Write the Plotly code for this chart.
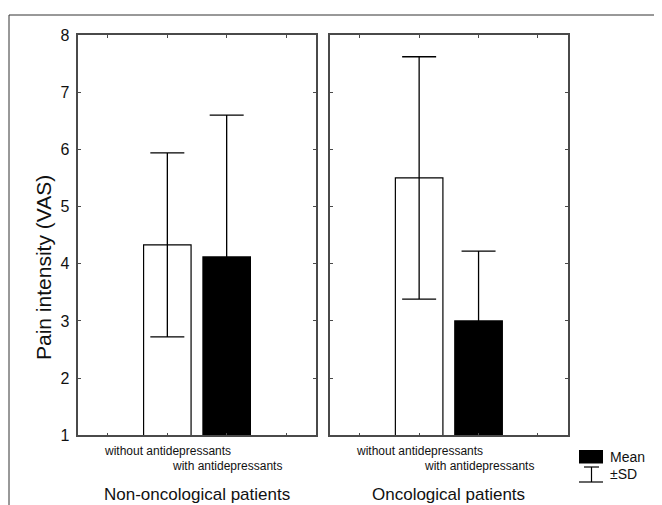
import plotly.graph_objects as go

# ---- data ----
groups = ["Non-oncological patients", "Oncological patients"]
treatments = ["without antidepressants", "with antidepressants"]
mean_without = [4.33, 5.50]
sd_without = [1.61, 2.12]
mean_with = [4.12, 3.00]
sd_with = [2.48, 1.22]
slots = [2, 3]          # category slot of each treatment inside a panel (4 slots per panel)
y_ticks = [1, 2, 3, 4, 5, 6, 7, 8]
y_title = "Pain intensity (VAS)"
legend_labels = ["Mean", "±SD"]

W, H = 662, 505
OFF = 8  # page body margin offset
FONT = "Arial, Liberation Sans, Helvetica, sans-serif"
AX = "#4a4a4a"

def px(x):
    return (x - OFF) / W

def py(y):
    return 1 - (y - OFF) / H

fig = go.Figure()

panel_dom = [[px(78.3), px(315.7)], [px(330.0), px(567.7)]]
ydom = [py(435.3), py(35.0)]

for i in range(2):
    xa = "x" if i == 0 else "x2"
    ya = "y" if i == 0 else "y2"
    fig.add_trace(go.Bar(
        x=[slots[0]], y=[mean_without[i]], xaxis=xa, yaxis=ya,
        width=0.8, marker=dict(color="white", line=dict(color="black", width=1.2)),
        error_y=dict(type="data", array=[sd_without[i]], symmetric=True,
                     color="black", thickness=1.3, width=17),
        showlegend=False, name=treatments[0]))
    fig.add_trace(go.Bar(
        x=[slots[1]], y=[mean_with[i]], xaxis=xa, yaxis=ya,
        width=0.8, marker=dict(color="black", line=dict(color="black", width=1.2)),
        error_y=dict(type="data", array=[sd_with[i]], symmetric=True,
                     color="black", thickness=1.3, width=17),
        showlegend=False, name=treatments[1]))

xcommon = dict(range=[0.5, 4.5], tickvals=[1, 2, 3, 4], showticklabels=False,
               ticks="inside", ticklen=3, tickcolor=AX, tickwidth=1,
               showline=True, linecolor=AX, linewidth=1.6, mirror="ticks",
               showgrid=False, zeroline=False, fixedrange=True, automargin=False)
ycommon = dict(range=[1, 8], tickvals=y_ticks,
               ticks="inside", ticklen=3, tickcolor=AX, tickwidth=1,
               showline=True, linecolor=AX, linewidth=1.6, mirror="ticks",
               showgrid=False, zeroline=False, fixedrange=True, automargin=False)

fig.update_layout(
    width=W, height=H,
    margin=dict(l=0, r=0, t=0, b=0, pad=0, autoexpand=False),
    paper_bgcolor="white", plot_bgcolor="white",
    barmode="overlay", showlegend=False,
    font=dict(family=FONT, color="#111"),
    xaxis=dict(domain=panel_dom[0], anchor="y", **xcommon),
    xaxis2=dict(domain=panel_dom[1], anchor="y2", **xcommon),
    yaxis=dict(domain=ydom, anchor="x", tickfont=dict(size=16, family=FONT, color="#111"),
               ticklabelstandoff=4, **ycommon),
    yaxis2=dict(domain=ydom, anchor="x2", matches="y", showticklabels=False, **ycommon),
)

ann = []
# y title
ann.append(dict(text=y_title, xref="paper", yref="paper", x=px(43), y=py(268),
                textangle=-90, showarrow=False, font=dict(size=21, family=FONT, color="#111"),
                xanchor="center", yanchor="middle"))
for i in range(2):
    xa = "x" if i == 0 else "x2"
    # staggered category labels
    ann.append(dict(text=treatments[0], xref=xa, yref="paper", x=slots[0], y=py(451),
                    showarrow=False, font=dict(size=12, family=FONT, color="#111"),
                    xanchor="center", yanchor="middle"))
    ann.append(dict(text=treatments[1], xref=xa, yref="paper", x=slots[1], y=py(465.5),
                    showarrow=False, font=dict(size=12, family=FONT, color="#111"),
                    xanchor="center", yanchor="middle"))
    # panel titles
    ann.append(dict(text=groups[i], xref=xa + " domain", yref="paper", x=0.5, y=py(494),
                    showarrow=False, font=dict(size=17, family=FONT, color="#111"),
                    xanchor="center", yanchor="middle"))
# legend text
ann.append(dict(text=legend_labels[0], xref="paper", yref="paper", x=px(608), y=py(457),
                showarrow=False, font=dict(size=14, family=FONT, color="#111"),
                xanchor="left", yanchor="middle"))
ann.append(dict(text=legend_labels[1], xref="paper", yref="paper", x=px(608), y=py(474),
                showarrow=False, font=dict(size=14, family=FONT, color="#111"),
                xanchor="left", yanchor="middle"))
fig.update_layout(annotations=ann)

shapes = []
# outer frame (top and left)
shapes.append(dict(type="line", xref="paper", yref="paper", x0=px(9), x1=1, y0=py(15), y1=py(15),
                   line=dict(color="#333", width=1)))
shapes.append(dict(type="line", xref="paper", yref="paper", x0=px(9), x1=px(9), y0=py(15), y1=0,
                   line=dict(color="#333", width=1)))
# legend symbols
shapes.append(dict(type="rect", xref="paper", yref="paper", x0=px(579), x1=px(603),
                   y0=py(463.5), y1=py(450), fillcolor="black", line=dict(width=0)))
shapes.append(dict(type="line", xref="paper", yref="paper", x0=px(584), x1=px(599),
                   y0=py(467), y1=py(467), line=dict(color="black", width=1.2)))
shapes.append(dict(type="line", xref="paper", yref="paper", x0=px(591.5), x1=px(591.5),
                   y0=py(467), y1=py(482), line=dict(color="black", width=1.2)))
shapes.append(dict(type="line", xref="paper", yref="paper", x0=px(579), x1=px(603),
                   y0=py(482), y1=py(482), line=dict(color="black", width=1.2)))
fig.update_layout(shapes=shapes)

fig.write_html("out.html")
